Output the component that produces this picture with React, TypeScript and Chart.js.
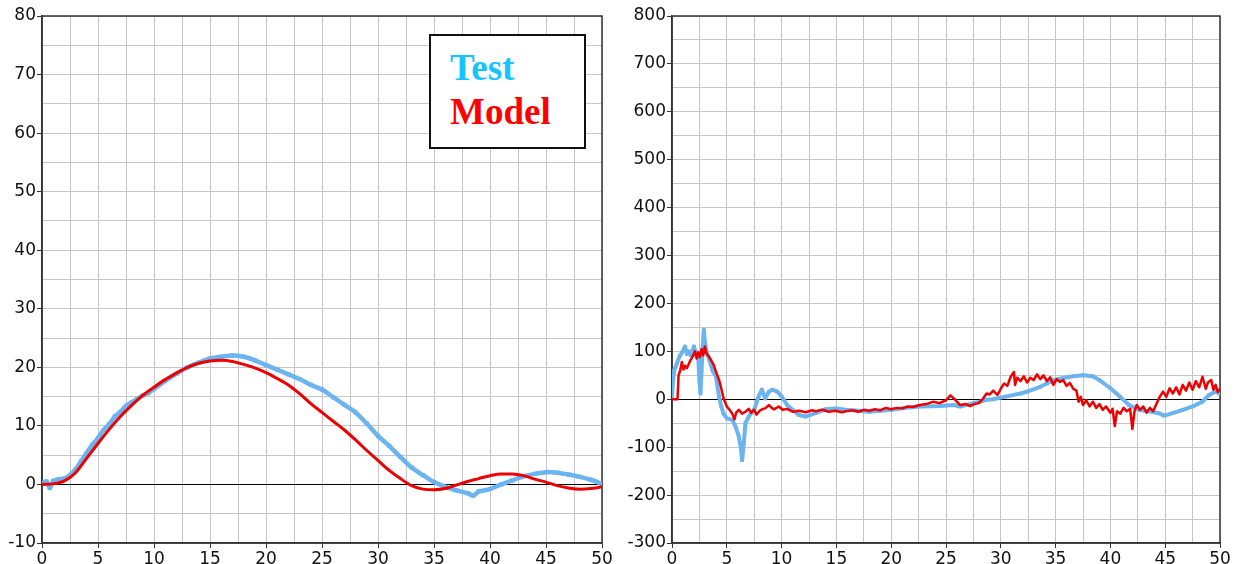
import React, { useEffect, useRef } from "react";
import { Chart, registerables } from "chart.js";

Chart.register(...registerables);

// ---------- Left chart data ----------
const leftModelX = [0,1,2,3,4,5,6,7,8,9,10,11,12,13,14,15,16,17,18,19,20,21,22,23,24,25,26,27,28,29,30,31,32,33,34,35,36,37,38,39,40,41,42,43,44,45,46,47,48,49,50];
const leftModelY = [0,0.1,0.6,2.0,4.5,7.0,9.4,11.6,13.5,15.2,16.6,17.9,19.0,20.0,20.7,21.1,21.2,21.0,20.5,19.9,19.1,18.1,17.0,15.5,13.8,12.3,10.8,9.3,7.6,5.8,4.1,2.4,1.0,-0.2,-0.8,-0.9,-0.7,-0.1,0.5,1.0,1.5,1.8,1.8,1.5,0.9,0.4,-0.2,-0.6,-0.8,-0.7,-0.4];

const leftTestX = [0,0.4,0.7,1,1.5,2,2.5,3,3.5,4,4.5,5,5.5,6,6.5,7,7.5,8,8.5,9,9.5,10,11,12,13,14,15,16,17,18,19,20,21,22,23,24,25,26,27,28,29,30,31,32,33,34,35,36,37,38,38.5,39,40,41,42,43,44,45,46,47,48,49,50];
const leftTestY = [0.2,0.5,-0.6,0.6,0.9,1.0,1.6,2.6,4.0,5.4,6.8,7.9,9.3,10.3,11.6,12.4,13.4,14.0,14.6,15.2,15.6,16.3,17.7,18.9,20.0,20.8,21.5,21.8,22.0,21.8,21.2,20.4,19.6,18.8,18.0,17.0,16.2,14.9,13.6,12.3,10.4,8.3,6.6,4.7,2.9,1.6,0.4,-0.4,-1.0,-1.5,-1.9,-1.2,-0.8,0.0,0.7,1.4,1.8,2.1,2.0,1.7,1.3,0.8,0.1];

// ---------- Right chart data ----------
const rightModelX = [0,0.5,0.6,0.75,0.9,1.05,1.2,1.35,1.5,1.65,1.8,1.95,2.1,2.25,2.4,2.55,2.7,2.85,3.0,3.15,3.35,3.6,3.8,4.05,4.3,4.5,4.7,5.0,5.25,5.5,5.7,5.85,6.1,6.4,6.7,7.0,7.2,7.5,7.7,8.0,8.3,8.5,8.85,9.1,9.3,9.75,10.1,10.5,11.0,11.6,12.2,12.8,13.1,13.7,14.3,14.9,15.5,15.9,16.5,17.0,17.5,18.0,18.5,19.0,19.5,20.0,20.5,21.0,21.5,22.0,22.6,23.2,23.85,24.4,25.0,25.4,25.8,26.3,26.8,27.2,27.6,28.0,28.4,28.7,29.0,29.3,29.7,30.0,30.3,30.6,30.9,31.2,31.3,31.5,31.8,32.1,32.4,32.7,33.0,33.3,33.6,33.9,34.2,34.5,34.8,35.1,35.4,35.7,36.0,36.3,36.6,36.9,37.1,37.3,37.5,37.8,38.1,38.4,38.7,39.0,39.3,39.6,40.0,40.2,40.4,40.6,40.9,41.2,41.5,41.8,42.0,42.2,42.4,42.7,43.0,43.3,43.6,43.9,44.2,44.5,44.8,45.1,45.4,45.7,46.0,46.3,46.6,46.9,47.2,47.5,47.8,48.1,48.4,48.7,48.9,49.2,49.4,49.6,49.8,50.0];
const rightModelY = [0,0,50,60,78,62,70,65,72,80,86,92,100,85,98,88,105,92,110,95,90,80,72,55,40,22,2,-15,-22,-30,-42,-28,-22,-30,-26,-20,-28,-22,-32,-24,-20,-19,-12,-18,-21,-15,-22,-20,-26,-24,-27,-23,-25,-22,-26,-24,-27,-25,-23,-26,-22,-24,-21,-23,-18,-21,-18,-19,-15,-16,-12,-10,-5,-8,-2,8,0,-12,-10,-14,-10,-8,2,12,10,18,9,22,33,28,47,57,30,45,38,48,35,45,40,52,42,50,38,46,30,42,36,40,28,34,22,18,-5,5,-12,-2,-15,-5,-18,-10,-22,-15,-28,-20,-56,-25,-30,-18,-25,-20,-62,-25,-12,-22,-15,-28,-18,-25,-10,5,16,5,23,12,25,10,30,18,35,20,38,25,47,22,35,40,20,30,15,22];

const rightTestX = [0,0.1,0.2,0.45,0.7,0.9,1.1,1.2,1.35,1.5,1.7,1.85,2.0,2.15,2.3,2.4,2.5,2.6,2.7,2.8,2.9,3.0,3.2,3.4,3.7,4.0,4.3,4.5,4.7,5.0,5.5,5.8,6.1,6.3,6.4,6.55,6.7,7.0,7.5,7.9,8.2,8.5,8.85,9.15,9.6,10.0,10.5,11.0,11.6,12.2,13.1,14.0,14.9,15.9,17,18,19,20,21,22,22.6,24.5,25.7,26.3,27.5,28.1,28.7,29.3,30.3,31.8,32.4,33.6,34.2,34.8,35.4,36.6,37.5,38.4,39.0,40,40.9,41.7,42.6,43.5,44.4,44.9,45.7,46.6,47.5,48.4,49.0,49.6,49.9];
const rightTestY = [5,40,60,75,90,97,105,110,95,100,92,100,110,100,95,85,40,12,60,110,145,120,95,83,60,48,5,-15,-30,-40,-43,-57,-78,-105,-127,-92,-50,-36,-22,6,20,2,16,20,16,6,-12,-22,-33,-36,-29,-21,-19,-22,-24,-26,-24,-22,-19,-16,-15,-14,-12,-15,-8,-5,-1,0,5,12,16,26,33,40,43,48,50,48,40,23,5,-12,-22,-25,-29,-34,-29,-22,-15,-5,9,16,12];

const xTicksStep = 2.5;
const leftYRange = { min: -10, max: 80, step: 5, labelEvery: 10 };
const rightYRange = { min: -300, max: 800, step: 50, labelEvery: 100 };

const TEST_COLOR = "#6cb4f0";
const MODEL_COLOR = "#ee0000";
const GRID_COLOR = "#c6c6c6";
const AXIS_COLOR = "#333333";
const TICK_FONT = { family: "DejaVu Sans", size: 17 };

const frame = {
  id: "frame",
  beforeDatasetsDraw(chart: any) {
    const { ctx, chartArea } = chart;
    ctx.save();
    ctx.strokeStyle = AXIS_COLOR;
    ctx.lineWidth = 1.5;
    ctx.strokeRect(chartArea.left, chartArea.top, chartArea.right - chartArea.left, chartArea.bottom - chartArea.top);
    ctx.restore();
  },
};

function zip(xs: number[], ys: number[]) {
  return xs.map((x, i) => ({ x, y: ys[i] }));
}

function makeConfig(
  modelX: number[], modelY: number[], testX: number[], testY: number[],
  yr: { min: number; max: number; step: number; labelEvery: number },
  yWidth: number, smooth: boolean
) {
  return {
    type: "scatter" as const,
    data: {
      datasets: [
        {
          label: "Model",
          data: zip(modelX, modelY),
          showLine: true,
          borderColor: MODEL_COLOR,
          borderWidth: smooth ? 3 : 2.5,
          borderJoinStyle: "round" as const,
          pointRadius: 0,
          tension: smooth ? 0.4 : 0,
          cubicInterpolationMode: smooth ? ("monotone" as const) : ("default" as const),
        },
        {
          label: "Test",
          data: zip(testX, testY),
          showLine: true,
          borderColor: TEST_COLOR,
          backgroundColor: TEST_COLOR,
          borderWidth: smooth ? 4.5 : 4,
          borderJoinStyle: "round" as const,
          pointStyle: "rect" as const,
          pointRadius: smooth ? 3 : 2.5,
          pointBorderWidth: 0,
          tension: smooth ? 0.3 : 0,
        },
      ],
    },
    options: {
      responsive: false,
      animation: false as const,
      devicePixelRatio: 1,
      layout: { padding: { top: 16, right: 16, left: 0, bottom: 0 } },
      plugins: { legend: { display: false }, tooltip: { enabled: false } },
      scales: {
        x: {
          type: "linear" as const,
          min: 0,
          max: 50,
          afterFit: (s: any) => { s.height = 21; },
          ticks: {
            stepSize: xTicksStep,
            autoSkip: false,
            maxRotation: 0,
            padding: 1,
            color: "#111",
            font: TICK_FONT,
            callback: (v: any) => (Number(v) % 5 === 0 ? String(v) : ""),
          },
          grid: {
            color: GRID_COLOR,
            lineWidth: 1,
            tickLength: 5,
            tickColor: (c: any) => (c.tick && c.tick.value % 5 === 0 ? AXIS_COLOR : "rgba(0,0,0,0)"),
          },
          border: { color: AXIS_COLOR, width: 1.5 },
        },
        y: {
          type: "linear" as const,
          min: yr.min,
          max: yr.max,
          afterFit: (s: any) => { s.width = yWidth; },
          ticks: {
            stepSize: yr.step,
            autoSkip: false,
            padding: 1,
            color: "#111",
            font: TICK_FONT,
            callback: (v: any) => (Number(v) % yr.labelEvery === 0 ? String(v) : ""),
          },
          grid: {
            color: (c: any) => (c.tick && c.tick.value === 0 ? "#000" : GRID_COLOR),
            lineWidth: 1,
            tickLength: 5,
            tickColor: (c: any) => (c.tick && c.tick.value % yr.labelEvery === 0 ? AXIS_COLOR : "rgba(0,0,0,0)"),
          },
          border: { color: AXIS_COLOR, width: 1.5 },
        },
      },
    },
    plugins: [frame],
  };
}

function ChartBox(props: { config: any; left: number }) {
  const ref = useRef<HTMLCanvasElement | null>(null);
  useEffect(() => {
    if (!ref.current) return;
    const chart = new Chart(ref.current, props.config);
    return () => chart.destroy();
  }, []);
  return (
    <canvas
      ref={ref}
      width={618}
      height={564}
      style={{ position: "absolute", left: props.left, top: 0, width: 618, height: 564 }}
    />
  );
}

export default function App() {
  const leftCfg = makeConfig(leftModelX, leftModelY, leftTestX, leftTestY, leftYRange, 42, true);
  const rightCfg = makeConfig(rightModelX, rightModelY, rightTestX, rightTestY, rightYRange, 54, false);
  return (
    <div style={{ position: "absolute", left: 0, top: 0, width: 1236, height: 564, background: "#fff", overflow: "hidden" }}>
      <ChartBox config={leftCfg} left={0} />
      <ChartBox config={rightCfg} left={618} />
      <div
        style={{
          position: "absolute",
          left: 429,
          top: 34,
          width: 157,
          height: 115,
          border: "2px solid #111",
          background: "#fff",
          fontFamily: "'Liberation Serif', 'Times New Roman', serif",
          fontWeight: "bold",
          fontSize: 37,
          lineHeight: "44px",
          paddingLeft: 19,
          paddingTop: 10,
          boxSizing: "border-box",
        }}
      >
        <div style={{ color: "#18c4ff" }}>Test</div>
        <div style={{ color: "#ff0000" }}>Model</div>
      </div>
    </div>
  );
}
